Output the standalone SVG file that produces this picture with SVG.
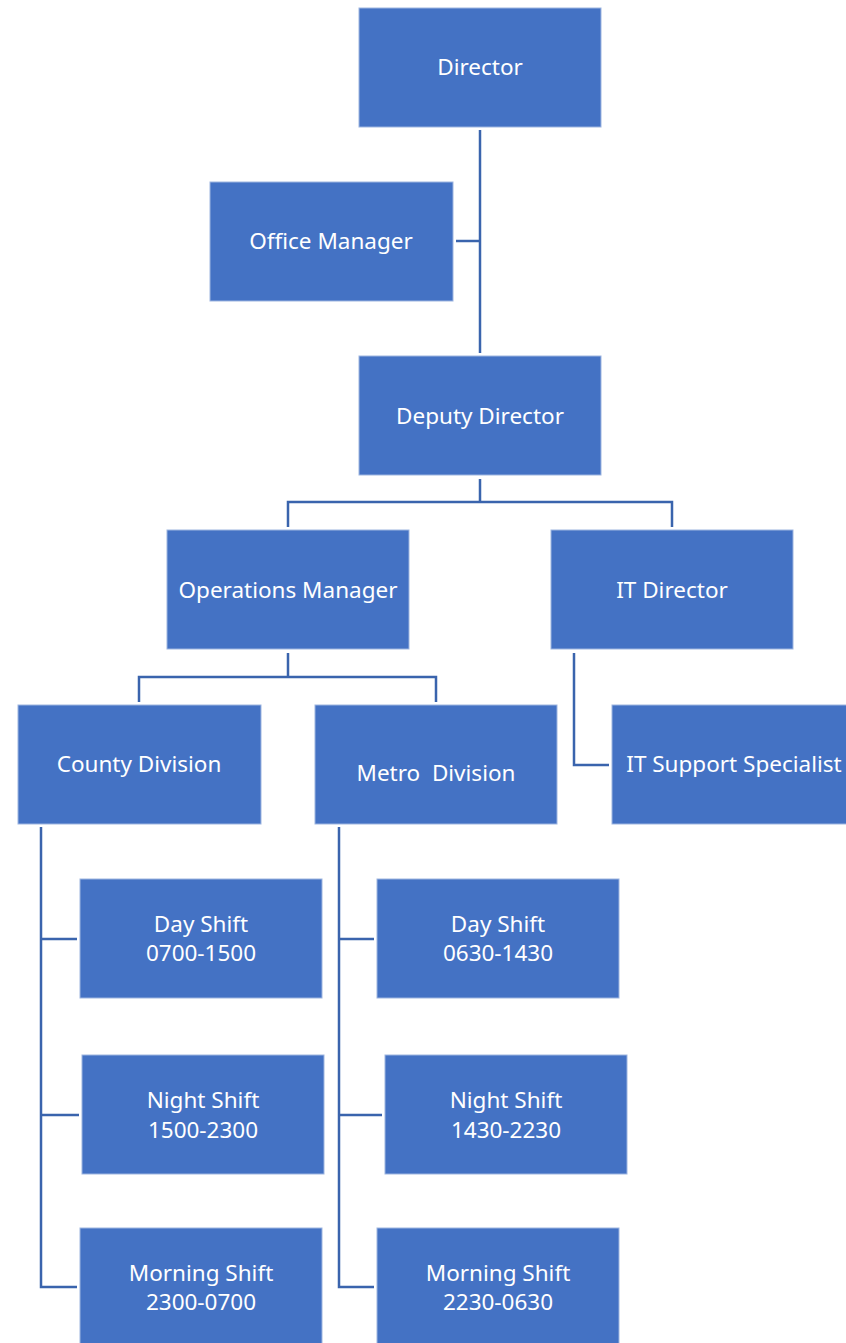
<svg xmlns="http://www.w3.org/2000/svg" width="846" height="1343" viewBox="0 0 846 1343">
<style>
.box{fill:#4472C4;stroke:#9DB5E0;stroke-width:1}
.t{font-family:"Noto Sans","Open Sans","Liberation Sans",sans-serif;font-size:22.5px;fill:#FFFFFF;text-anchor:middle;white-space:pre}
.c{fill:none;stroke:#3A64AD;stroke-width:2.5}
</style>
<rect width="846" height="1343" fill="#FFFFFF"/>
<g id="connectors">
<path class="c" d="M480,130 V353"/>
<path class="c" d="M456,241 H480"/>
<path class="c" d="M480,479 V502 M288,527 V502 H672 V527"/>
<path class="c" d="M288,653 V677 M139,702 V677 H436 V702"/>
<path class="c" d="M574,653 V765 H609"/>
<path class="c" d="M41,827 V1287 H77 M41,939 H77 M41,1115 H79"/>
<path class="c" d="M339,827 V1287 H374 M339,939 H374 M339,1115 H382"/>
</g>
<g id="director"><rect class="box" x="359" y="8" width="242" height="119"/><text class="t" x="480" y="75">Director</text></g>
<g id="office-manager"><rect class="box" x="210" y="182" width="243" height="119"/><text class="t" x="331" y="249">Office Manager</text></g>
<g id="deputy-director"><rect class="box" x="359" y="356" width="242" height="119"/><text class="t" x="480" y="424">Deputy Director</text></g>
<g id="operations-manager"><rect class="box" x="167" y="530" width="242" height="119"/><text class="t" x="288" y="598">Operations Manager</text></g>
<g id="it-director"><rect class="box" x="551" y="530" width="242" height="119"/><text class="t" x="672" y="598">IT Director</text></g>
<g id="county-division"><rect class="box" x="18" y="705" width="243" height="119"/><text class="t" x="139" y="772">County Division</text></g>
<g id="metro-division"><rect class="box" x="315" y="705" width="242" height="119"/><text class="t" x="436" y="781" xml:space="preserve">Metro  Division</text></g>
<g id="it-support"><rect class="box" x="612" y="705" width="240" height="119"/><text class="t" x="734" y="772">IT Support Specialist</text></g>
<g id="county-day"><rect class="box" x="80" y="879" width="242" height="119"/><text class="t" x="201" y="932">Day Shift</text><text class="t" x="201" y="961">0700-1500</text></g>
<g id="county-night"><rect class="box" x="82" y="1055" width="242" height="119"/><text class="t" x="203" y="1108">Night Shift</text><text class="t" x="203" y="1138">1500-2300</text></g>
<g id="county-morning"><rect class="box" x="80" y="1228" width="242" height="119"/><text class="t" x="201" y="1281">Morning Shift</text><text class="t" x="201" y="1310">2300-0700</text></g>
<g id="metro-day"><rect class="box" x="377" y="879" width="242" height="119"/><text class="t" x="498" y="932">Day Shift</text><text class="t" x="498" y="961">0630-1430</text></g>
<g id="metro-night"><rect class="box" x="385" y="1055" width="242" height="119"/><text class="t" x="506" y="1108">Night Shift</text><text class="t" x="506" y="1138">1430-2230</text></g>
<g id="metro-morning"><rect class="box" x="377" y="1228" width="242" height="119"/><text class="t" x="498" y="1281">Morning Shift</text><text class="t" x="498" y="1310">2230-0630</text></g>
</svg>
